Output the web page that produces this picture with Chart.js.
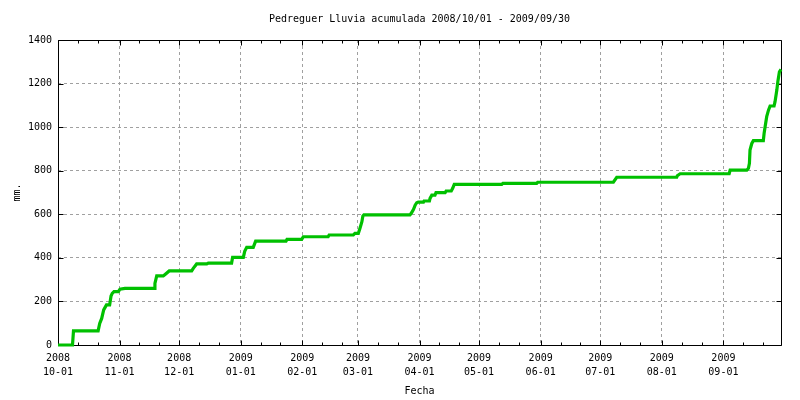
<!DOCTYPE html>
<html>
<head>
<meta charset="utf-8">
<script src="https://cdn.jsdelivr.net/npm/chart.js@4"></script>
<style>
  html, body { margin: 0; padding: 0; background: #fff; }
</style>
</head>
<body>
<canvas id="rainChart" width="800" height="400"></canvas>
<script>
// days since 2008-10-01 and accumulated rain (mm.)
const dayOffset = [0, 7.3, 7.8, 20.2, 21, 22, 23, 24.4, 26, 26.7, 27.3, 28.2, 30.4, 31.2, 33.7, 48.5, 48.8, 49.7, 53, 53.9, 56,
  67.3, 68.1, 69.8, 74.9, 75.7, 87.4, 87.9, 93.3, 94, 95, 98.3, 99.5, 114.8, 115.3, 122.7, 123.5, 136, 136.5, 148.7, 149.5,
  151.2, 152, 153, 153.5, 154, 177.2, 178, 179, 179.8, 180.6, 181.4, 184, 184.3, 187, 187.3, 188.2, 189.8, 190.3, 194.9, 195.4,
  198, 198.7, 199.5, 223.4, 224, 241, 241.5, 279.6, 281.3, 311.5, 311.8, 313.2, 337.9, 338.4, 346.8, 347.6, 348.1, 348.4,
  349.3, 350.1, 355.1, 355.5, 356, 356.8, 357.7, 358.5, 360.5, 361, 361.9, 362.4, 363.2, 364];
const accumulated = [0, 0, 65, 65, 99, 122, 161, 184, 184, 225, 237, 245, 245, 256, 260, 260, 283, 317, 317, 324, 340,
  340, 352, 372, 372, 376, 376, 402, 402, 430, 448, 448, 477, 477, 485, 485, 497, 497, 505, 505, 512,
  512, 535, 566, 592, 597, 597, 607, 623, 642, 653, 656, 656, 661, 661, 673, 688, 688, 699, 699, 707,
  707, 719, 737, 737, 742, 742, 747, 747, 770, 770, 777, 786, 786, 803, 803, 811, 834, 895,
  925, 938, 938, 972, 1002, 1048, 1078, 1097, 1097, 1117, 1170, 1208, 1254, 1265];

const monthDays = [0, 31, 61, 92, 123, 151, 182, 212, 243, 273, 304, 335];
const monthYears = ['2008', '2008', '2008', '2009', '2009', '2009', '2009', '2009', '2009', '2009', '2009', '2009'];
const monthLabels = ['10-01', '11-01', '12-01', '01-01', '02-01', '03-01', '04-01', '05-01', '06-01', '07-01', '08-01', '09-01'];
const yTicks = [0, 200, 400, 600, 800, 1000, 1200, 1400];

const monoFont = { family: 'DejaVu Sans Mono', size: 10, lineHeight: 1.2, weight: 'normal' };

// black frame plus inward tick marks, gnuplot style
const framePlugin = {
    id: 'frame',
    beforeDatasetsDraw(chart) {
        const { ctx, chartArea: a, scales: { x, y } } = chart;
        const L = Math.round(a.left) + 0.5, R = Math.round(a.right) + 0.5;
        const T = Math.round(a.top) + 0.5, B = Math.round(a.bottom) + 0.5;
        ctx.save();
        ctx.strokeStyle = '#000';
        ctx.lineWidth = 1;
        ctx.beginPath();
        ctx.rect(L, T, R - L, B - T);
        monthDays.forEach(d => {
            const px = Math.round(x.getPixelForValue(d)) + 0.5;
            ctx.moveTo(px, B); ctx.lineTo(px, B - 5);
            ctx.moveTo(px, T); ctx.lineTo(px, T + 5);
            [10, 20].forEach(m => {
                if (d + m > x.max) return;
                const mx = Math.round(x.getPixelForValue(d + m)) + 0.5;
                ctx.moveTo(mx, B); ctx.lineTo(mx, B - 3);
                ctx.moveTo(mx, T); ctx.lineTo(mx, T + 3);
            });
        });
        yTicks.forEach(v => {
            const py = Math.round(y.getPixelForValue(v)) + 0.5;
            ctx.moveTo(L, py); ctx.lineTo(L + 5, py);
            ctx.moveTo(R, py); ctx.lineTo(R - 5, py);
        });
        ctx.stroke();
        ctx.restore();
    }
};

new Chart(document.getElementById('rainChart'), {
    type: 'line',
    data: {
        datasets: [{
            data: dayOffset.map((d, i) => ({ x: d, y: accumulated[i] })),
            borderColor: '#00c000',
            borderWidth: 3.2,
            pointRadius: 0,
            tension: 0,
            fill: false,
            clip: 3
        }]
    },
    options: {
        responsive: false,
        animation: false,
        layout: { padding: { left: 0, right: 19, top: 0, bottom: 0 } },
        plugins: {
            legend: { display: false },
            tooltip: { enabled: false },
            title: {
                display: true,
                text: 'Pedreguer Lluvia acumulada 2008/10/01 - 2009/09/30',
                color: '#000',
                font: monoFont,
                fullSize: false,
                padding: { top: 13, bottom: 15 }
            }
        },
        scales: {
            x: {
                type: 'linear',
                min: 0,
                max: 364,
                afterFit(scale) { scale.height = 55; },
                afterBuildTicks(scale) { scale.ticks = monthDays.map(v => ({ value: v })); },
                grid: { color: '#a0a0a0', drawTicks: false },
                border: { display: false, dash: [3, 3] },
                ticks: {
                    color: '#000',
                    font: { family: 'DejaVu Sans Mono', size: 10, lineHeight: 1.35 },
                    padding: 7,
                    maxRotation: 0,
                    autoSkip: false,
                    callback: (value, index) => [monthYears[index], monthLabels[index]]
                },
                title: {
                    display: true,
                    text: 'Fecha',
                    color: '#000',
                    font: monoFont,
                    padding: { top: 0, bottom: 3 }
                }
            },
            y: {
                min: 0,
                max: 1400,
                afterFit(scale) { scale.width = 58; },
                afterBuildTicks(scale) { scale.ticks = yTicks.map(v => ({ value: v })); },
                grid: { color: '#a0a0a0', drawTicks: false },
                border: { display: false, dash: [3, 3] },
                ticks: { color: '#000', font: monoFont, padding: 6, callback: v => String(v) },
                title: {
                    display: true,
                    text: 'mm.',
                    color: '#000',
                    font: monoFont,
                    padding: { top: 11, bottom: 0 }
                }
            }
        }
    },
    plugins: [framePlugin]
});
</script>
</body>
</html>
